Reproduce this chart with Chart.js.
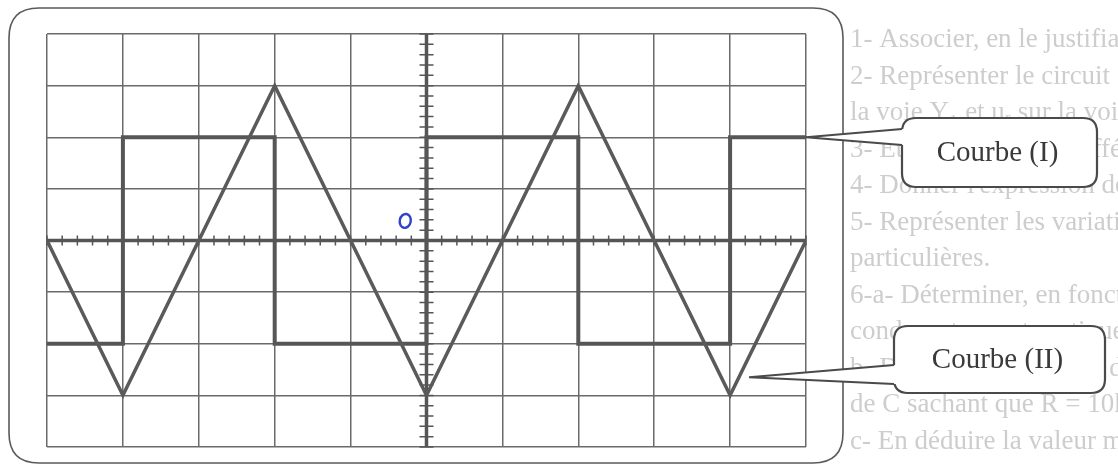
<!DOCTYPE html>
<html>
<head>
<meta charset="utf-8">
<script src="https://cdn.jsdelivr.net/npm/chart.js@4.4.1/dist/chart.umd.min.js"></script>
<style>
  html, body { margin: 0; padding: 0; background: #ffffff; }
  #wrap { width: 1118px; height: 467px; }
</style>
</head>
<body>
<div id="wrap"><canvas id="scope"></canvas></div>
<script>
// divisions of the oscilloscope screen
var xDivs = [-5, 5];
var yDivs = [-4, 4];

// Courbe (II) : triangle
var triX = [-5, -4, -2, 0, 2, 4, 5];
var triY = [0, -3, 3, -3, 3, -3, 0];

// Courbe (I) : carré
var sqX = [-5, -4, -4, -2, -2, 0, 0, 2, 2, 4, 4, 5];
var sqY = [-2, -2, 2, 2, -2, -2, 2, 2, -2, -2, 2, 2];

// étiquettes
var labelI = "Courbe (I)";
var labelII = "Courbe (II)";

// texte de l'énoncé (en fond, très clair)
var pageLines = [
  "1- Associer, en le justifiant, chaque courbe à la voie qui lui correspond.",
  "2- Représenter le circuit électrique avec les connexions nécessaires à l'oscilloscope",
  "la voie Y\u2081 et u\u1d63 sur la voie Y\u2082.",
  "3- Établir l'équation différentielle en u\u1d04(t) lors de la charge du condensateur.",
  "4- Donner l'expression de u\u1d04(t), en déduire celle de i(t) pour chaque phase.",
  "5- Représenter les variations de i(t) le long d'une période en précisant les différentes valeurs",
  "particulières.",
  "6-a- Déterminer, en fonction de la constante de temps \u03c4, la durée au bout de laquelle le",
  "condensateur est pratiquement chargé.",
  "b- Déterminer la valeur de \u03c4 sachant que S\u2095 = 1ms/div et S\u1d65 = 5V/div, en déduire la valeur",
  "de C sachant que R = 10k\u03a9.",
  "c- En déduire la valeur maximale de la fréquence N pour laquelle le condensateur"
];

function toPoints(xs, ys) {
  var pts = [];
  for (var i = 0; i < xs.length; i++) {
    pts.push({ x: xs[i], y: ys[i] });
  }
  return pts;
}

function roundRectPath(ctx, x, y, w, h, r) {
  ctx.beginPath();
  ctx.moveTo(x + r, y);
  ctx.lineTo(x + w - r, y);
  ctx.quadraticCurveTo(x + w, y, x + w, y + r);
  ctx.lineTo(x + w, y + h - r);
  ctx.quadraticCurveTo(x + w, y + h, x + w - r, y + h);
  ctx.lineTo(x + r, y + h);
  ctx.quadraticCurveTo(x, y + h, x, y + h - r);
  ctx.lineTo(x, y + r);
  ctx.quadraticCurveTo(x, y, x + r, y);
  ctx.closePath();
}

function drawCallout(ctx, box, tip, openTop, openBot, text) {
  ctx.save();
  roundRectPath(ctx, box.x, box.y, box.w, box.h, 14);
  ctx.fillStyle = "#ffffff";
  ctx.fill();
  ctx.strokeStyle = "#4a4a4a";
  ctx.lineWidth = 2.2;
  ctx.stroke();
  // pointe
  ctx.beginPath();
  ctx.moveTo(tip.x, tip.y);
  ctx.lineTo(box.x + 2, openTop);
  ctx.lineTo(box.x + 2, openBot);
  ctx.closePath();
  ctx.fillStyle = "#ffffff";
  ctx.fill();
  ctx.beginPath();
  ctx.moveTo(box.x, openTop);
  ctx.lineTo(tip.x, tip.y);
  ctx.lineTo(box.x, openBot);
  ctx.strokeStyle = "#4a4a4a";
  ctx.lineWidth = 2;
  ctx.stroke();
  ctx.fillStyle = "#3a3a3a";
  ctx.font = '29px "Liberation Serif", "DejaVu Serif", serif';
  ctx.textAlign = "center";
  ctx.textBaseline = "middle";
  ctx.fillText(text, box.x + box.w / 2 - 2, box.y + box.h / 2 + 1);
  ctx.restore();
}

var scopePlugin = {
  id: "scope",
  beforeDraw: function (chart) {
    var ctx = chart.ctx;
    ctx.save();
    ctx.fillStyle = "#ffffff";
    ctx.fillRect(0, 0, chart.width, chart.height);
    // texte de fond, à droite de l'écran
    ctx.save();
    ctx.beginPath();
    ctx.rect(846, 0, chart.width - 846, chart.height);
    ctx.clip();
    ctx.fillStyle = "#cdcdcd";
    ctx.font = '27px "Liberation Serif", "DejaVu Serif", serif';
    ctx.textBaseline = "middle";
    ctx.textAlign = "left";
    for (var i = 0; i < pageLines.length; i++) {
      ctx.fillText(pageLines[i], 850, 40 + i * 36.5);
    }
    ctx.restore();
    // cadre de l'écran
    roundRectPath(ctx, 9, 8, 834, 455, 30);
    ctx.strokeStyle = "#5a5a5a";
    ctx.lineWidth = 1.6;
    ctx.stroke();
    ctx.restore();
  },
  beforeDatasetsDraw: function (chart) {
    var ctx = chart.ctx;
    var xs = chart.scales.x;
    var ys = chart.scales.y;
    var x0 = xs.getPixelForValue(0);
    var y0 = ys.getPixelForValue(0);
    ctx.save();
    ctx.strokeStyle = "#555555";
    ctx.lineWidth = 3.5;
    ctx.beginPath();
    ctx.moveTo(xs.left, y0);
    ctx.lineTo(xs.right, y0);
    ctx.moveTo(x0, ys.top);
    ctx.lineTo(x0, ys.bottom);
    ctx.stroke();
    // graduations (1/5 de division)
    ctx.lineWidth = 1.5;
    ctx.beginPath();
    for (var i = xDivs[0] * 5; i <= xDivs[1] * 5; i++) {
      var px = xs.getPixelForValue(i / 5);
      ctx.moveTo(px, y0 - 5);
      ctx.lineTo(px, y0 + 5);
    }
    for (var j = yDivs[0] * 5; j <= yDivs[1] * 5; j++) {
      var py = ys.getPixelForValue(j / 5);
      ctx.moveTo(x0 - 7, py);
      ctx.lineTo(x0 + 7, py);
    }
    ctx.stroke();
    ctx.restore();
  },
  afterDraw: function (chart) {
    var ctx = chart.ctx;
    var xs = chart.scales.x;
    var ys = chart.scales.y;
    // marque bleue manuscrite
    ctx.save();
    ctx.strokeStyle = "#2f43c8";
    ctx.lineWidth = 2.4;
    ctx.beginPath();
    ctx.ellipse(xs.getPixelForValue(-0.28), ys.getPixelForValue(0.38), 5.5, 7, 0.2, 0, Math.PI * 2);
    ctx.stroke();
    ctx.restore();

    var tipI = { x: xs.getPixelForValue(5), y: ys.getPixelForValue(2) };
    drawCallout(ctx, { x: 902, y: 118, w: 195, h: 69 }, tipI, 129, 145, labelI);
    var tipII = { x: xs.getPixelForValue(4.25), y: ys.getPixelForValue(-2.65) };
    drawCallout(ctx, { x: 894, y: 326, w: 211, h: 67 }, tipII, 365, 384, labelII);
  }
};

var ctx = document.getElementById("scope").getContext("2d");
var chart = new Chart(ctx, {
  type: "line",
  data: {
    datasets: [
      {
        label: labelII,
        data: toPoints(triX, triY),
        borderColor: "#5a5a5a",
        borderWidth: 3.5,
        pointRadius: 0,
        fill: false,
        tension: 0,
      },
      {
        label: labelI,
        data: toPoints(sqX, sqY),
        borderColor: "#565656",
        borderWidth: 4,
        pointRadius: 0,
        fill: false,
        tension: 0,
      },
    ],
  },
  options: {
    responsive: true,
    maintainAspectRatio: false,
    animation: false,
    layout: { padding: { left: 47, right: 312, top: 34, bottom: 20 } },
    plugins: { legend: { display: false }, tooltip: { enabled: false } },
    scales: {
      x: {
        type: "linear",
        min: xDivs[0],
        max: xDivs[1],
        ticks: { display: false, stepSize: 1 },
        grid: { color: "#6a6a6a", lineWidth: 1.5, drawTicks: false },
        border: { display: false },
        afterFit: function (scale) { scale.height = 0; },
      },
      y: {
        type: "linear",
        min: yDivs[0],
        max: yDivs[1],
        ticks: { display: false, stepSize: 1 },
        grid: { color: "#6a6a6a", lineWidth: 1.5, drawTicks: false },
        border: { display: false },
        afterFit: function (scale) { scale.width = 0; },
      },
    },
  },
  plugins: [scopePlugin],
});
</script>
</body>
</html>
